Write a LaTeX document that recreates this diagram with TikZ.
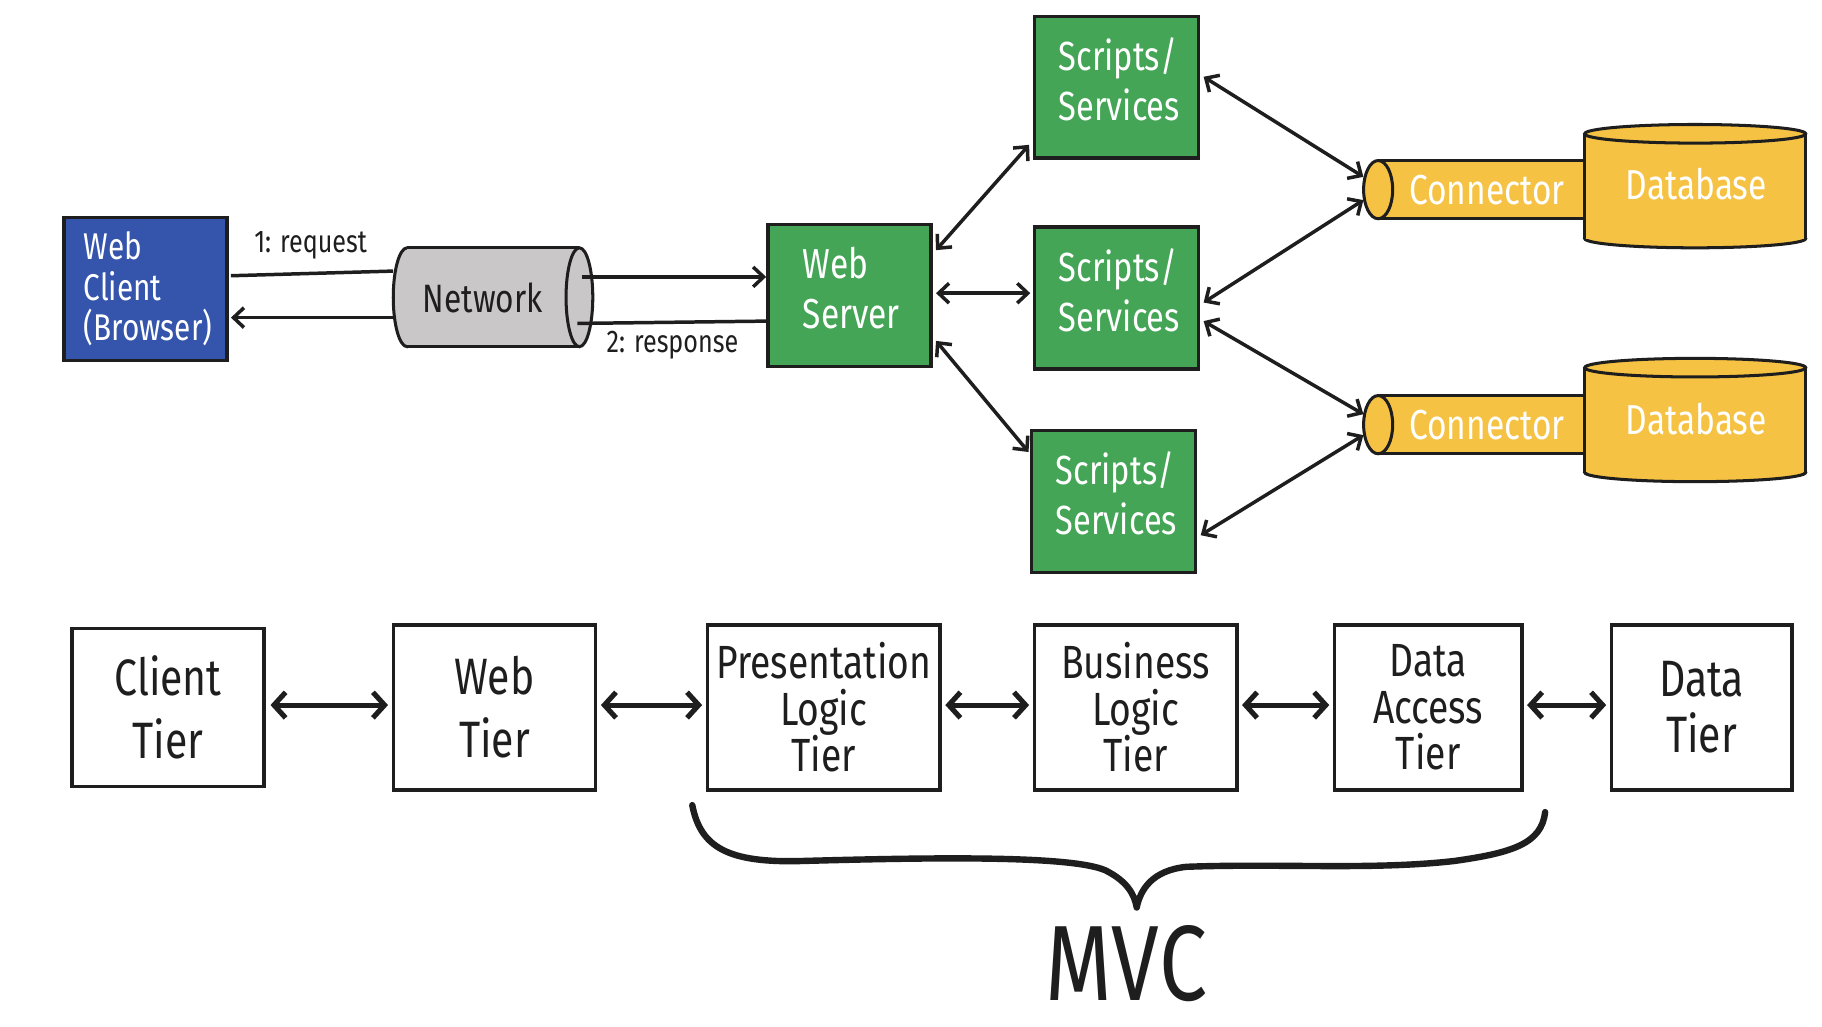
\documentclass[tikz,border=0pt]{standalone}
\usepackage{fontspec}
\newfontfamily\hand{Fira Sans}[FakeStretch=0.8]
\usetikzlibrary{arrows.meta,calc}
\definecolor{cblue}{HTML}{3555AD}
\definecolor{cgreen}{HTML}{45A556}
\definecolor{cyel}{HTML}{F5C243}
\definecolor{cgray}{HTML}{C9C7C7}
\definecolor{ink}{HTML}{1E1E1E}
\newcommand\hsz[2]{\fontsize{#1pt}{#2pt}\selectfont}
\begin{document}
\begin{tikzpicture}[x=1pt,y=-1pt,
  solidbox/.style={draw=ink, line width=3pt, text=white, inner ysep=0pt, align=left},
  tier/.style={draw=ink, line width=3pt, fill=white, text=ink, align=center, inner sep=0pt},
  cyl/.style={draw=ink, line width=2.6pt},
  twoway/.style={draw=ink, line width=3pt, {Straight Barb[length=9pt,width=17pt]}-{Straight Barb[length=9pt,width=17pt]}},
  oneway/.style={draw=ink, line width=3pt, -{Straight Barb[length=9pt,width=17pt]}},
  plainline/.style={draw=ink, line width=3pt},
  tierlink/.style={draw=ink, line width=4.4pt, {Straight Barb[length=10pt,width=22pt]}-{Straight Barb[length=10pt,width=22pt]}},
  lbl/.style={text=ink, font=\hand\hsz{27}{30}},
  cyltext/.style={inner sep=0pt, font=\hand\hsz{36}{40}},
]
\useasboundingbox (0,0) rectangle (1566,882);
\fill[white] (0,0) rectangle (1566,882);

% ---------- Network cylinder ----------
\filldraw[fill=cgray, cyl] (350,255.5) ellipse [x radius=12, y radius=42.5];
\fill[cgray] (350,213) rectangle (498,298);
\draw[cyl] (350,213) -- (498,213) (350,298) -- (498,298);
\filldraw[fill=cgray, cyl] (498,255.5) ellipse [x radius=11.5, y radius=42.5];
\node[cyltext, text=ink, minimum width=154pt, minimum height=85pt, font=\hand\hsz{34}{38}] (net) at (415,256) {Network};

% ---------- Connectors ----------
\fill[cyel] (1184.5,138) rectangle (1380,188);
\draw[cyl] (1184.5,138) -- (1380,138) (1184.5,188) -- (1380,188);
\filldraw[fill=cyel, cyl] (1184.5,163) ellipse [x radius=12.5, y radius=25];
\fill[cyel] (1184.5,340) rectangle (1380,390);
\draw[cyl] (1184.5,340) -- (1380,340) (1184.5,390) -- (1380,390);
\filldraw[fill=cyel, cyl] (1184.5,365) ellipse [x radius=12.5, y radius=25];

% ---------- Databases ----------
\filldraw[fill=cyel, cyl] (1457,205) ellipse [x radius=95, y radius=8];
\fill[cyel] (1362,115) rectangle (1552,205);
\draw[cyl] (1362,115) -- (1362,205) (1552,115) -- (1552,205);
\filldraw[fill=cyel, cyl] (1457,115) ellipse [x radius=95, y radius=8];
\filldraw[fill=cyel, cyl] (1457,406) ellipse [x radius=95, y radius=8];
\fill[cyel] (1362,316) rectangle (1552,406);
\draw[cyl] (1362,316) -- (1362,406) (1552,316) -- (1552,406);
\filldraw[fill=cyel, cyl] (1457,316) ellipse [x radius=95, y radius=8];

\node[cyltext, text=white, minimum width=212pt, minimum height=50pt] (c1) at (1278,163) {Connector};
\node[cyltext, text=white, minimum width=212pt, minimum height=50pt] (c2) at (1278,365) {Connector};
\node[cyltext, text=white] (d1) at (1458,158) {Database};
\node[cyltext, text=white] (d2) at (1458,360) {Database};

% ---------- Coloured boxes ----------
\node[solidbox, fill=cblue, minimum width=140pt, minimum height=123pt, text width=106pt, inner xsep=17pt, font=\hand\hsz{32}{35}] (wc) at (125,248.5) {Web\\Client\\(Browser)\\[-30pt]\mbox{}};
\node[solidbox, fill=cgreen, minimum width=140pt, minimum height=122pt, text width=80pt, inner xsep=30pt, font=\hand\hsz{36}{43}] (ws) at (730,254) {Web\\Server\\[-29pt]\mbox{}};
\node[solidbox, fill=cgreen, minimum width=141pt, minimum height=122pt, text width=99pt, inner xsep=21pt, font=\hand\hsz{35}{43}] (s1) at (959.5,75) {Scripts/\\Services\\[-29pt]\mbox{}};
\node[solidbox, fill=cgreen, minimum width=141pt, minimum height=122pt, text width=99pt, inner xsep=21pt, font=\hand\hsz{35}{43}] (s2) at (959.5,256) {Scripts/\\Services\\[-29pt]\mbox{}};
\node[solidbox, fill=cgreen, minimum width=141pt, minimum height=122pt, text width=99pt, inner xsep=21pt, font=\hand\hsz{35}{43}] (s3) at (957,431) {Scripts/\\Services\\[-29pt]\mbox{}};

% ---------- request / response ----------
\draw[plainline] ($(wc.east)+(2,-11.5)$) -- ($(net.west)+(0,-23)$);
\draw[oneway] ($(net.east)+(8,-18)$) -- ($(ws.west)+(0,-16)$);
\draw[plainline] ($(ws.west)+(0,22)$) -- ($(net.east)+(4,22)$);
\draw[oneway] ($(net.west)+(0,17)$) -- ($(wc.east)+(2,24.5)$);
\node[lbl] (lreq) at (267,211) {1: request};
\node[lbl] (lresp) at (578,297) {2: response};

% ---------- server links ----------
\draw[twoway] ($(ws.east)+(3,-39)$) -- ($(s1.south west)+(-3,-13)$);
\draw[twoway] ($(ws.east)+(3,-2)$) -- ($(s2.west)+(-2,-4)$);
\draw[twoway] ($(ws.east)+(3,39)$) -- ($(s3.north west)+(-1,20)$);
\draw[twoway] ($(s1.east)+(3,-9)$) -- ($(c1.west)+(0,-11)$);
\draw[twoway] ($(s2.east)+(3,4)$) -- ($(c1.west)+(0,9)$);
\draw[twoway] ($(s2.east)+(3,20)$) -- ($(c2.west)+(0,-9)$);
\draw[twoway] ($(s3.east)+(3,29)$) -- ($(c2.west)+(0,9)$);

% ---------- tiers ----------
\node[tier, minimum width=165pt, minimum height=136pt, font=\hand\hsz{44}{54}] (t1) at (144.5,608) {Client\\Tier};
\node[tier, minimum width=174pt, minimum height=142pt, font=\hand\hsz{44}{54}] (t2) at (425,608) {Web\\Tier};
\node[tier, minimum width=200pt, minimum height=142pt, font=\hand\hsz{40}{40}] (t3) at (708,608) {Presentation\\Logic\\Tier};
\node[tier, minimum width=174pt, minimum height=142pt, font=\hand\hsz{40}{40}] (t4) at (976,608) {Business\\Logic\\Tier};
\node[tier, minimum width=161pt, minimum height=142pt, font=\hand\hsz{40}{40}] (t5) at (1227.5,608) {Data\\Access\\Tier};
\node[tier, minimum width=155pt, minimum height=142pt, font=\hand\hsz{44}{48}] (t6) at (1462.5,608) {Data\\Tier};

\draw[tierlink] ($(t1.east)+(4,-2)$) -- ($(t2.west)+(-3,-2)$);
\draw[tierlink] ($(t2.east)+(3,-2)$) -- ($(t3.west)+(-3,-2)$);
\draw[tierlink] ($(t3.east)+(3,-2)$) -- ($(t4.west)+(-3,-2)$);
\draw[tierlink] ($(t4.east)+(3,-2)$) -- ($(t5.west)+(-3,-2)$);
\draw[tierlink] ($(t5.east)+(3,-2)$) -- ($(t6.west)+(-3,-2)$);

% ---------- brace ----------
\draw[ink, line width=5.5pt, line cap=round, line join=round]
  (595,692) .. controls (602,728) and (625,742) .. (690,740)
  .. controls (800,737) and (920,735) .. (950,748)
  .. controls (968,757) and (975,768) .. (977,780)
  .. controls (980,765) and (990,748) .. (1020,745)
  .. controls (1100,742) and (1180,748) .. (1250,740)
  .. controls (1300,733) and (1325,725) .. (1328,698);
\node[text=ink, font=\hand\hsz{92}{96}] (mvc) at (968,828) {MVC};
\end{tikzpicture}
\end{document}
